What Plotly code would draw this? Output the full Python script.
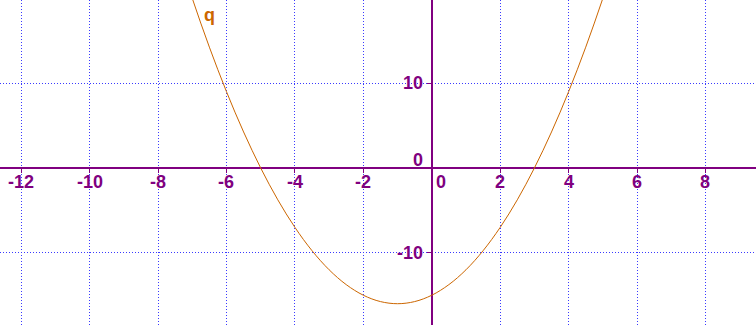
import plotly.graph_objects as go

# Function graph q
q_x = [-7.5, -7, -6.5, -6, -5.5, -5, -4.5, -4, -3.5, -3, -2.5, -2, -1.5, -1,
       -0.5, 0, 0.5, 1, 1.5, 2, 2.5, 3, 3.5, 4, 4.5, 5, 5.5]
q_y = [26.25, 20, 14.25, 9, 4.25, 0, -3.75, -7, -9.75, -12, -13.75, -15, -15.75, -16,
       -15.75, -15, -13.75, -12, -9.75, -7, -3.75, 0, 4.25, 9, 14.25, 20, 26.25]

x_ticks = [-12, -10, -8, -6, -4, -2, 2, 4, 6, 8]
x_labels = ["-12", "-10", "-8", "-6", "-4", "-2", "2", "4", "6", "8"]
y_ticks = [-10, 10]
y_labels = ["-10", "10"]
x_range = [-12.62, 9.477]
y_range = [-18.51, 19.81]

AXIS = "#800080"
CURVE = "#CC6600"
GRID = "#3a3aff"
FONT = dict(family="Liberation Sans, Arial, sans-serif", size=18, color=AXIS, weight="bold")

fig = go.Figure()
fig.add_trace(go.Scatter(x=q_x, y=q_y, mode="lines", line=dict(color=CURVE, width=1, shape="spline"),
                         hoverinfo="skip", showlegend=False))

x_pos = (0 - y_range[0]) / (y_range[1] - y_range[0])
y_pos = (0 - x_range[0]) / (x_range[1] - x_range[0])

fig.update_layout(
    width=756, height=325,
    margin=dict(l=0, r=0, t=0, b=0),
    paper_bgcolor="white", plot_bgcolor="white",
    showlegend=False,
    xaxis=dict(range=x_range, tickvals=x_ticks, showticklabels=False, showgrid=True,
               gridcolor=GRID, gridwidth=1, griddash="1px,2px", zeroline=False,
               showline=True, linecolor=AXIS, linewidth=2, anchor="free", position=x_pos,
               ticks="outside", ticklen=4, tickcolor=AXIS, tickwidth=1, layer="below traces"),
    yaxis=dict(range=y_range, tickvals=y_ticks, showticklabels=False, showgrid=True,
               gridcolor=GRID, gridwidth=1, griddash="1px,2px", zeroline=False,
               showline=True, linecolor=AXIS, linewidth=2, anchor="free", position=y_pos,
               ticks="outside", ticklen=4, tickcolor=AXIS, tickwidth=1, layer="below traces"),
)

for v, t in zip(x_ticks, x_labels):
    fig.add_annotation(x=v, y=0, xref="x", yref="y", text=t, showarrow=False, font=FONT,
                       xanchor="center", yanchor="middle", yshift=-14)
for v, t in zip(y_ticks, y_labels):
    fig.add_annotation(x=0, y=v, xref="x", yref="y", text=t, showarrow=False, font=FONT,
                       xanchor="right", yanchor="middle", xshift=-7)

fig.add_annotation(x=0, y=0, xref="x", yref="y", text="0", showarrow=False, font=FONT,
                   xanchor="left", yanchor="middle", xshift=2, yshift=-14)
fig.add_annotation(x=0, y=0, xref="x", yref="y", text="0", showarrow=False, font=FONT,
                   xanchor="right", yanchor="middle", xshift=-7, yshift=8)
fig.add_annotation(x=-6.5, y=18.0, xref="x", yref="y", text="q", showarrow=False,
                   font=dict(family="Liberation Sans, Arial, sans-serif", size=18, color=CURVE,
                             weight="bold"))

fig.write_html("out.html")
